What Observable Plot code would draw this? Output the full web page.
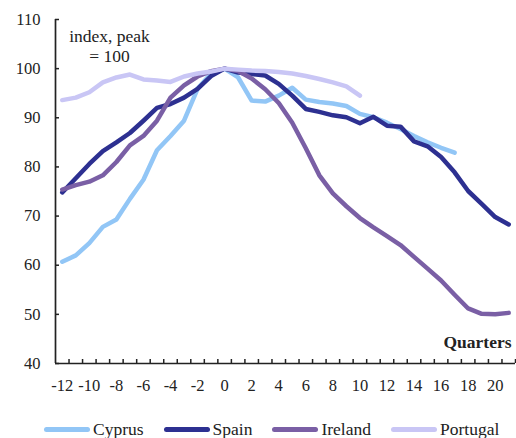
<!DOCTYPE html>
<html><head><meta charset="utf-8">
<script src="https://cdn.jsdelivr.net/npm/d3@7"></script>
<script src="https://cdn.jsdelivr.net/npm/@observablehq/plot@0.6"></script>
<style>
body{margin:0;background:#fff;font-family:'Liberation Serif','Tinos','Times New Roman','DejaVu Serif',serif;}
#legend{display:flex;align-items:center;height:20px;margin-top:14px;padding-left:44px;font-size:17.5px;color:#222;}
.item{display:flex;align-items:center;margin-right:20px;}
.sw{width:46px;height:5px;border-radius:3px;margin-right:3px;}
svg text{font-family:'Liberation Serif','Tinos','Times New Roman','DejaVu Serif',serif;}
</style></head><body><div id="chart"></div><div id="legend"></div>
<script>
const quarters = d3.range(-12, 22);
const seriesNames = ["Cyprus", "Spain", "Ireland", "Portugal"];
const cyprus = [60.7, 62.0, 64.5, 67.8, 69.3, 73.5, 77.4, 83.4, 86.3, 89.4, 95.9, 99.0, 100, 98.2, 93.5, 93.3, 94.5, 96.1, 93.7, 93.2, 92.9, 92.4, 90.8, 90.1, 89.0, 87.7, 86.3, 85.0, 83.9, 82.9];
const spain = [74.8, 77.7, 80.6, 83.2, 85.0, 86.9, 89.4, 92.0, 92.8, 94.1, 95.9, 98.5, 100, 99.2, 98.9, 98.6, 96.9, 94.5, 91.8, 91.2, 90.5, 90.1, 88.9, 90.2, 88.4, 88.2, 85.2, 84.2, 82.0, 78.9, 75.1, 72.5, 69.8, 68.3];
const ireland = [75.4, 76.3, 77.0, 78.3, 81.0, 84.4, 86.3, 89.4, 94.1, 96.6, 98.4, 99.5, 100, 99.5, 98.0, 95.8, 93.0, 89.0, 83.8, 78.3, 74.6, 72.0, 69.6, 67.7, 65.9, 64.1, 61.7, 59.3, 56.9, 54.0, 51.2, 50.1, 50.0, 50.3];
const portugal = [93.6, 94.1, 95.2, 97.2, 98.2, 98.8, 97.8, 97.6, 97.3, 98.4, 99.0, 99.4, 100, 99.8, 99.6, 99.5, 99.3, 99.0, 98.5, 97.9, 97.2, 96.4, 94.5];
const yTicks = [40, 50, 60, 70, 80, 90, 100, 110];
const xTickLabels = [-12, -10, -8, -6, -4, -2, 0, 2, 4, 6, 8, 10, 12, 14, 16, 18, 20];
const seriesColors = ["#92c6f6", "#2d3091", "#7a5fa5", "#c9c6f5"];

const seriesValues = [cyprus, spain, ireland, portugal];
const rows = seriesNames.flatMap((s, k) => seriesValues[k].map((v, i) => ({q: quarters[i], v, s})));
const xTickMarks = d3.range(quarters[0] + 0.5, quarters[quarters.length - 1] + 1, 1);
const xMin = quarters[0] - 0.5, xMax = quarters[quarters.length - 1] + 0.5;
const serifStack = "'Liberation Serif','Tinos','Times New Roman','DejaVu Serif',serif";

const chart = Plot.plot({
  width: 516, height: 405,
  marginTop: 19, marginBottom: 42, marginLeft: 55, marginRight: 1,
  style: {fontFamily: serifStack, fontSize: "16.5px", color: "#222", background: "#fff"},
  x: {domain: [xMin, xMax], label: null},
  y: {domain: [yTicks[0], yTicks[yTicks.length - 1]], label: null},
  color: {domain: seriesNames, range: seriesColors},
  marks: [
    Plot.line(rows, {x: "q", y: "v", z: "s", stroke: "s", strokeWidth: 4.5, strokeLinejoin: "round", strokeLinecap: "round"}),
    Plot.ruleX([xMin], {stroke: "#222", strokeWidth: 1.7}),
    Plot.ruleY([yTicks[0]], {stroke: "#222", strokeWidth: 1.7}),
    Plot.axisY(yTicks, {tickSize: -4, tickFormat: () => "", stroke: "#222", strokeWidth: 1.5}),
    Plot.axisY(yTicks, {tickSize: 0, tickPadding: 15, tickFormat: d => String(d), fontSize: 16.5, fill: "#222"}),
    Plot.axisX(xTickMarks, {tickSize: -4, tickFormat: () => "", stroke: "#222", strokeWidth: 1.5}),
    Plot.axisX(xTickLabels, {tickSize: 0, tickPadding: 16, tickFormat: d => String(d), fontSize: 16.5, fill: "#222"}),
    Plot.text(["index, peak\n= 100"], {text: d => d, frameAnchor: "top-left", dx: 54, dy: 8, textAnchor: "middle", lineAnchor: "top", lineHeight: 1.14, fontSize: 17.5, fill: "#222"}),
    Plot.text(["Quarters"], {text: d => d, frameAnchor: "bottom-right", dx: -4, dy: -21, textAnchor: "end", lineAnchor: "middle", fontWeight: "bold", fontSize: 17.5, fill: "#222"})
  ]
});
document.getElementById("chart").appendChild(chart);

const legend = document.getElementById("legend");
seriesNames.forEach((name, k) => {
  const item = document.createElement("div");
  item.className = "item";
  const sw = document.createElement("span");
  sw.className = "sw";
  sw.style.background = seriesColors[k];
  const label = document.createElement("span");
  label.textContent = name;
  item.appendChild(sw);
  item.appendChild(label);
  legend.appendChild(item);
});
</script>
</body></html>
